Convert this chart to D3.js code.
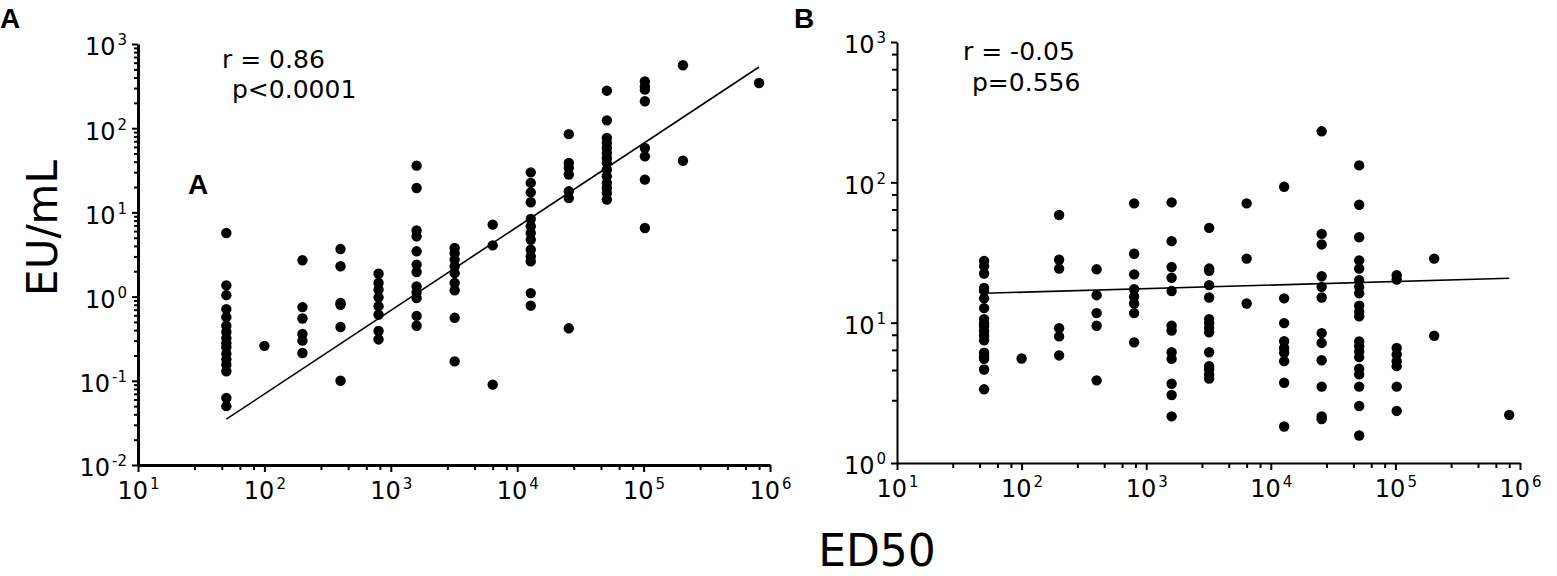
<!DOCTYPE html>
<html>
<head>
<meta charset="utf-8">
<script src="https://cdn.jsdelivr.net/npm/d3@7"></script>
<style>
  body { margin: 0; background: #fff; }
  svg text { font-family: "DejaVu Sans", Verdana, sans-serif; fill: #000; }
</style>
</head>
<body>
<div id="chart"></div>
<script>
// ED50 dilution levels shared by both panels
const ed50Levels = [50, 100, 200, 400, 800, 1600, 3200, 6400, 12800, 25600, 51200, 102400, 204800, 819200];

// Panel A: EU/mL per ED50 level
const euA = [
  [5.7, 1.36, 1.04, 0.71, 0.57, 0.45, 0.38, 0.32, 0.28, 0.25, 0.21, 0.18, 0.155, 0.13, 0.0625, 0.05],
  [0.26],
  [2.7, 0.75, 0.55, 0.36, 0.30, 0.214],
  [3.67, 2.29, 0.84, 0.8, 0.435, 0.1],
  [1.87, 1.45, 1.21, 0.98, 0.77, 0.61, 0.39, 0.31],
  [35.9, 19.5, 6.1, 5.2, 3.45, 2.4, 1.96, 1.32, 1.12, 0.96, 0.59, 0.45],
  [3.78, 3.3, 2.75, 2.29, 1.9, 1.45, 1.19, 0.56, 0.17],
  [7.15, 4.06, 0.09],
  [29.9, 22.4, 17.3, 13.2, 8.35, 6.84, 5.7, 4.74, 3.6, 3.0, 2.62, 1.1, 0.78],
  [85, 38.6, 33.7, 28.1, 17.8, 14.8, 0.42],
  [279, 124, 76.5, 66.7, 58.2, 50.7, 44.3, 38.6, 32.2, 26.8, 22.4, 19.5, 17.0, 14.2],
  [360, 314, 287, 209, 58.2, 46.3, 24.5, 6.53],
  [559, 41.1],
  [344]
];

// Panel B: EU/mL per ED50 level
const euB = [
  [27.5, 25.3, 22.4, 17.7, 16.9, 14.9, 12.7, 10.6, 9.9, 9.4, 8.7, 8.07, 7.48, 6.1, 5.77, 5.53, 4.64, 3.35],
  [5.55],
  [58.5, 28.1, 24.3, 9.14, 7.98, 5.84],
  [24.0, 15.7, 11.7, 9.5, 3.88],
  [70.8, 31, 22.1, 17.3, 15.3, 13.7, 11.7, 7.24],
  [72, 38.1, 24.9, 20.9, 16.8, 9.5, 8.8, 6.15, 5.52, 3.67, 3.05, 2.15],
  [47.4, 24.3, 23.4, 18.5, 15.1, 10.6, 9.9, 9.15, 8.53, 6.15, 4.9, 4.64, 4.28, 3.99],
  [70.8, 28.6, 13.7],
  [92.9, 14.9, 9.93, 7.37, 6.6, 6.1, 5.32, 3.73, 1.82],
  [231, 42.9, 36.1, 21.4, 18.0, 15.1, 8.43, 7.17, 5.4, 3.5, 2.15, 2.06],
  [132, 69.2, 40.6, 27.8, 24.3, 20.1, 18.0, 16.2, 13.2, 12.0, 11.1, 7.36, 6.79, 6.25, 5.68, 4.69, 4.28, 3.5, 2.55, 1.57],
  [21.8, 20.3, 6.6, 5.93, 5.32, 4.9, 3.5, 2.35],
  [28.6, 8.07],
  [2.2]
];

// regression lines (end points)
const fitAx = [50, 819200], fitAy = [0.035, 533];
const fitBx = [50, 819200], fitBy = [16.2, 20.7];

// tick labels (powers of ten)
const xExps = [1, 2, 3, 4, 5, 6];
const yExpsA = [-2, -1, 0, 1, 2, 3];
const yExpsB = [0, 1, 2, 3];
const minorSteps = [2.8, 4.6, 6.4, 8.2];
const minorStepsA = [2, 3, 4, 5, 6, 7, 8, 9];

const statsA = ["r = 0.86", "p<0.0001"];
const statsB = ["r = -0.05", "p=0.556"];

const W = 1557, H = 576;
const svg = d3.select("#chart").append("svg")
  .attr("width", W).attr("height", H);

function minorVals(exps, steps) {
  const out = [];
  for (let i = 0; i < exps.length - 1; i++)
    steps.forEach(s => out.push(s * Math.pow(10, exps[i])));
  return out;
}

function superscriptLabels(sel, exps) {
  sel.selectAll(".tick text").each(function (d, i) {
    const t = d3.select(this);
    t.text(null);
    t.append("tspan").text("10");
    t.append("tspan").attr("dx", 2).attr("dy", -10).attr("font-size", 15).text(exps[i]);
  });
}

function panel(opts) {
  const x = d3.scaleLog().domain([10, 1e6]).range(opts.xr);
  const y = d3.scaleLog().domain([Math.pow(10, opts.yExps[0]), Math.pow(10, opts.yExps[opts.yExps.length - 1])]).range(opts.yr);
  const g = svg.append("g");

  // minor ticks
  g.append("g")
    .attr("transform", `translate(0,${opts.yr[0]})`)
    .call(d3.axisBottom(x).tickValues(minorVals(xExps, minorSteps)).tickSize(5).tickFormat(""))
    .call(s => s.select(".domain").remove())
    .selectAll("line").attr("stroke-width", 2);
  g.append("g")
    .attr("transform", `translate(${opts.xr[0]},0)`)
    .call(d3.axisLeft(y).tickValues(minorVals(opts.yExps, opts.yMinor)).tickSize(opts.yMinorSize).tickFormat(""))
    .call(s => s.select(".domain").remove())
    .selectAll("line").attr("stroke-width", 2);

  // major x axis
  const xa = g.append("g")
    .attr("transform", `translate(0,${opts.yr[0]})`)
    .call(d3.axisBottom(x).tickValues(xExps.map(e => Math.pow(10, e))).tickSize(7).tickSizeOuter(0));
  xa.select(".domain").attr("stroke-width", opts.axisW);
  xa.selectAll(".tick line").attr("stroke-width", 2);
  xa.selectAll(".tick text").attr("y", 34).attr("dy", 0).attr("font-size", 24);
  superscriptLabels(xa, xExps);

  // major y axis
  const ya = g.append("g")
    .attr("transform", `translate(${opts.xr[0]},0)`)
    .call(d3.axisLeft(y).tickValues(opts.yExps.map(e => Math.pow(10, e))).tickSize(6).tickSizeOuter(0).tickPadding(5));
  ya.select(".domain").attr("stroke-width", opts.axisW);
  ya.selectAll(".tick line").attr("stroke-width", 2);
  ya.selectAll(".tick text").attr("font-size", 24).attr("dy", "0.45em");
  superscriptLabels(ya, opts.yExps);
  g.selectAll(".tick text").attr("font-family", "DejaVu Sans, Verdana, sans-serif");

  // points
  const pts = ed50Levels.flatMap((lv, i) => opts.values[i].map(v => ({ lv, v })));
  g.selectAll("circle.dot").data(pts).enter().append("circle")
    .attr("class", "dot")
    .attr("cx", d => x(d.lv))
    .attr("cy", d => y(d.v))
    .attr("r", 5.2)
    .attr("fill", "#000");

  // regression line
  g.append("path")
    .datum(opts.fitX.map((fx, i) => [fx, opts.fitY[i]]))
    .attr("d", d3.line().x(d => x(d[0])).y(d => y(d[1])))
    .attr("fill", "none").attr("stroke", "#000").attr("stroke-width", 1.6);

  // stats text
  opts.stats.forEach((s, i) => {
    g.append("text")
      .attr("x", opts.statPos[i][0]).attr("y", opts.statPos[i][1])
      .attr("font-size", 25)
      .text(s);
  });
}

panel({
  xr: [138, 770], yr: [465, 44], yExps: yExpsA, yMinor: minorStepsA, yMinorSize: 4,
  values: euA, fitX: fitAx, fitY: fitAy, axisW: 3,
  stats: statsA, statPos: [[222, 68], [232, 98]]
});

panel({
  xr: [897, 1520], yr: [463, 42], yExps: yExpsB, yMinor: minorSteps, yMinorSize: 5,
  values: euB, fitX: fitBx, fitY: fitBy, axisW: 2,
  stats: statsB, statPos: [[963, 60], [972, 91]]
});

// panel letters
const letters = [["A", 0, 28], ["B", 794, 28], ["A", 188, 194]];
letters.forEach(l => {
  svg.append("text").attr("x", l[1]).attr("y", l[2])
    .attr("font-weight", "bold").attr("font-size", 28)
    .style("font-family", "'Liberation Sans', Arial, sans-serif")
    .text(l[0]);
});

// axis titles
svg.append("text")
  .attr("transform", "translate(57,228) rotate(-90)")
  .attr("text-anchor", "middle")
  .attr("font-size", 42)
  .text("EU/mL");

svg.append("text")
  .attr("x", 877).attr("y", 566)
  .attr("text-anchor", "middle")
  .attr("font-size", 44)
  .text("ED50");
</script>
</body>
</html>
